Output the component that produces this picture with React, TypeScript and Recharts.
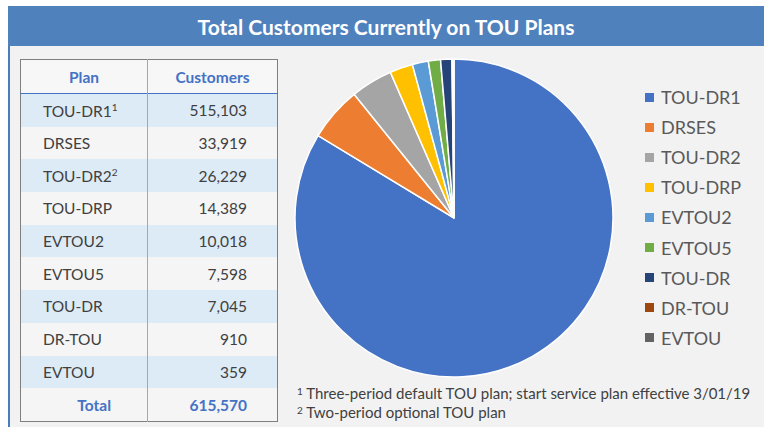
import { Cell, Legend, Pie, PieChart } from 'recharts';

const plans = ['TOU-DR1', 'DRSES', 'TOU-DR2', 'TOU-DRP', 'EVTOU2', 'EVTOU5', 'TOU-DR', 'DR-TOU', 'EVTOU'];
const customers = [515103, 33919, 26229, 14389, 10018, 7598, 7045, 910, 359];
const footMarks = ['1', '', '2', '', '', '', '', '', ''];
const sliceColors = ['#4472C4', '#ED7D31', '#A5A5A5', '#FFC000', '#5B9BD5', '#70AD47', '#264478', '#9E480E', '#636363'];
const footnotes = [
  ['1', 'Three-period default TOU plan; start service plan effective 3/01/19'],
  ['2', 'Two-period optional TOU plan'],
];

const data = plans.map((name, i) => ({ name, value: customers[i] }));
const total = customers.reduce((a, b) => a + b, 0);
const fmt = (n: number) => n.toLocaleString('en-US');

const FONT = 'Lato, "Open Sans", sans-serif';
const ROW_H = 32.7;

// keep legend in data order, not alphabetical
const LegendList = ({ payload }: any) => {
  const items = [...(payload || [])].sort((a: any, b: any) => plans.indexOf(a.value) - plans.indexOf(b.value));
  return (
    <ul style={{ listStyle: 'none', margin: 0, padding: 0 }}>
      {items.map((p: any) => (
        <li key={p.value} style={{ height: 30.1, display: 'flex', alignItems: 'center', fontSize: 18, color: '#595959', fontFamily: FONT }}>
          <span style={{ width: 9, height: 9, background: p.color, display: 'inline-block', marginRight: 7 }} />
          {p.value}
        </li>
      ))}
    </ul>
  );
};

export default function App() {
  const cell = (extra: React.CSSProperties = {}): React.CSSProperties => ({
    height: ROW_H,
    padding: 0,
    fontSize: 15.5,
    color: '#404040',
    ...extra,
  });

  return (
    <div style={{ position: 'absolute', left: 0, top: 0, width: 764, height: 427, background: '#f2f2f2', fontFamily: FONT, overflow: 'hidden' }}>
      <div style={{ position: 'absolute', left: 0, top: 0, width: 764, height: 6, background: '#ffffff' }} />
      <div style={{ position: 'absolute', left: 0, top: 0, width: 8, height: 427, background: '#ffffff' }} />
      <div style={{ position: 'absolute', left: 8, top: 6, width: 2, height: 421, background: '#4a7ebb' }} />
      <div style={{ position: 'absolute', left: 8, top: 6, width: 756, height: 40, background: '#4f81bd', color: '#fff', fontSize: 21, fontWeight: 700, display: 'flex', alignItems: 'center', justifyContent: 'center' }}>
        Total Customers Currently on TOU Plans
      </div>

      <table style={{ position: 'absolute', left: 20, top: 59, width: 257, borderCollapse: 'collapse', border: '1.5px solid #7f7f7f', tableLayout: 'fixed' }}>
        <colgroup>
          <col style={{ width: 127 }} />
          <col style={{ width: 130 }} />
        </colgroup>
        <thead>
          <tr style={{ background: '#f7f7f7', borderBottom: '1.5px solid #4472c4' }}>
            <th style={cell({ height: 33, color: '#4472c4', textAlign: 'center' })}>Plan</th>
            <th style={cell({ height: 33, color: '#4472c4', textAlign: 'center', borderLeft: '1px solid #8eaadb' })}>Customers</th>
          </tr>
        </thead>
        <tbody>
          {plans.map((p, i) => (
            <tr key={p} style={{ background: i % 2 === 0 ? '#ddebf7' : '#f5f5f5' }}>
              <td style={cell({ paddingLeft: 22 })}>
                {p}
                {footMarks[i] && <sup style={{ fontSize: 10 }}>{footMarks[i]}</sup>}
              </td>
              <td style={cell({ textAlign: 'right', paddingRight: 30, borderLeft: '1px solid #8eaadb' })}>{fmt(customers[i])}</td>
            </tr>
          ))}
          <tr style={{ background: '#f5f5f5' }}>
            <td style={cell({ textAlign: 'right', paddingRight: 36, color: '#4472c4', fontWeight: 700 })}>Total</td>
            <td style={cell({ textAlign: 'right', paddingRight: 30, color: '#4472c4', fontWeight: 700, borderLeft: '1px solid #8eaadb' })}>{fmt(total)}</td>
          </tr>
        </tbody>
      </table>

      <div style={{ position: 'absolute', left: 0, top: 0 }}>
        <PieChart width={764} height={427} margin={{ top: 0, right: 0, bottom: 0, left: 0 }}>
          <Pie
            data={data}
            dataKey="value"
            nameKey="name"
            cx={454}
            cy={218}
            outerRadius={159}
            startAngle={90}
            endAngle={-270}
            stroke="#ffffff"
            strokeWidth={1.5}
            isAnimationActive={false}
          >
            {data.map((entry, index) => (
              <Cell key={`cell-${index}`} fill={sliceColors[index]} />
            ))}
          </Pie>
          <Legend
            layout="vertical"
            content={<LegendList />}
            wrapperStyle={{ position: 'absolute', left: 645, top: 82, width: 120 }}
          />
        </PieChart>
      </div>

      <div style={{ position: 'absolute', left: 297, top: 384, fontSize: 15, color: '#404040', lineHeight: '19px' }}>
        {footnotes.map(([m, t]) => (
          <div key={m}>
            <span style={{ fontSize: 10, verticalAlign: 'top', lineHeight: '14px' }}>{m}</span> {t}
          </div>
        ))}
      </div>
    </div>
  );
}
